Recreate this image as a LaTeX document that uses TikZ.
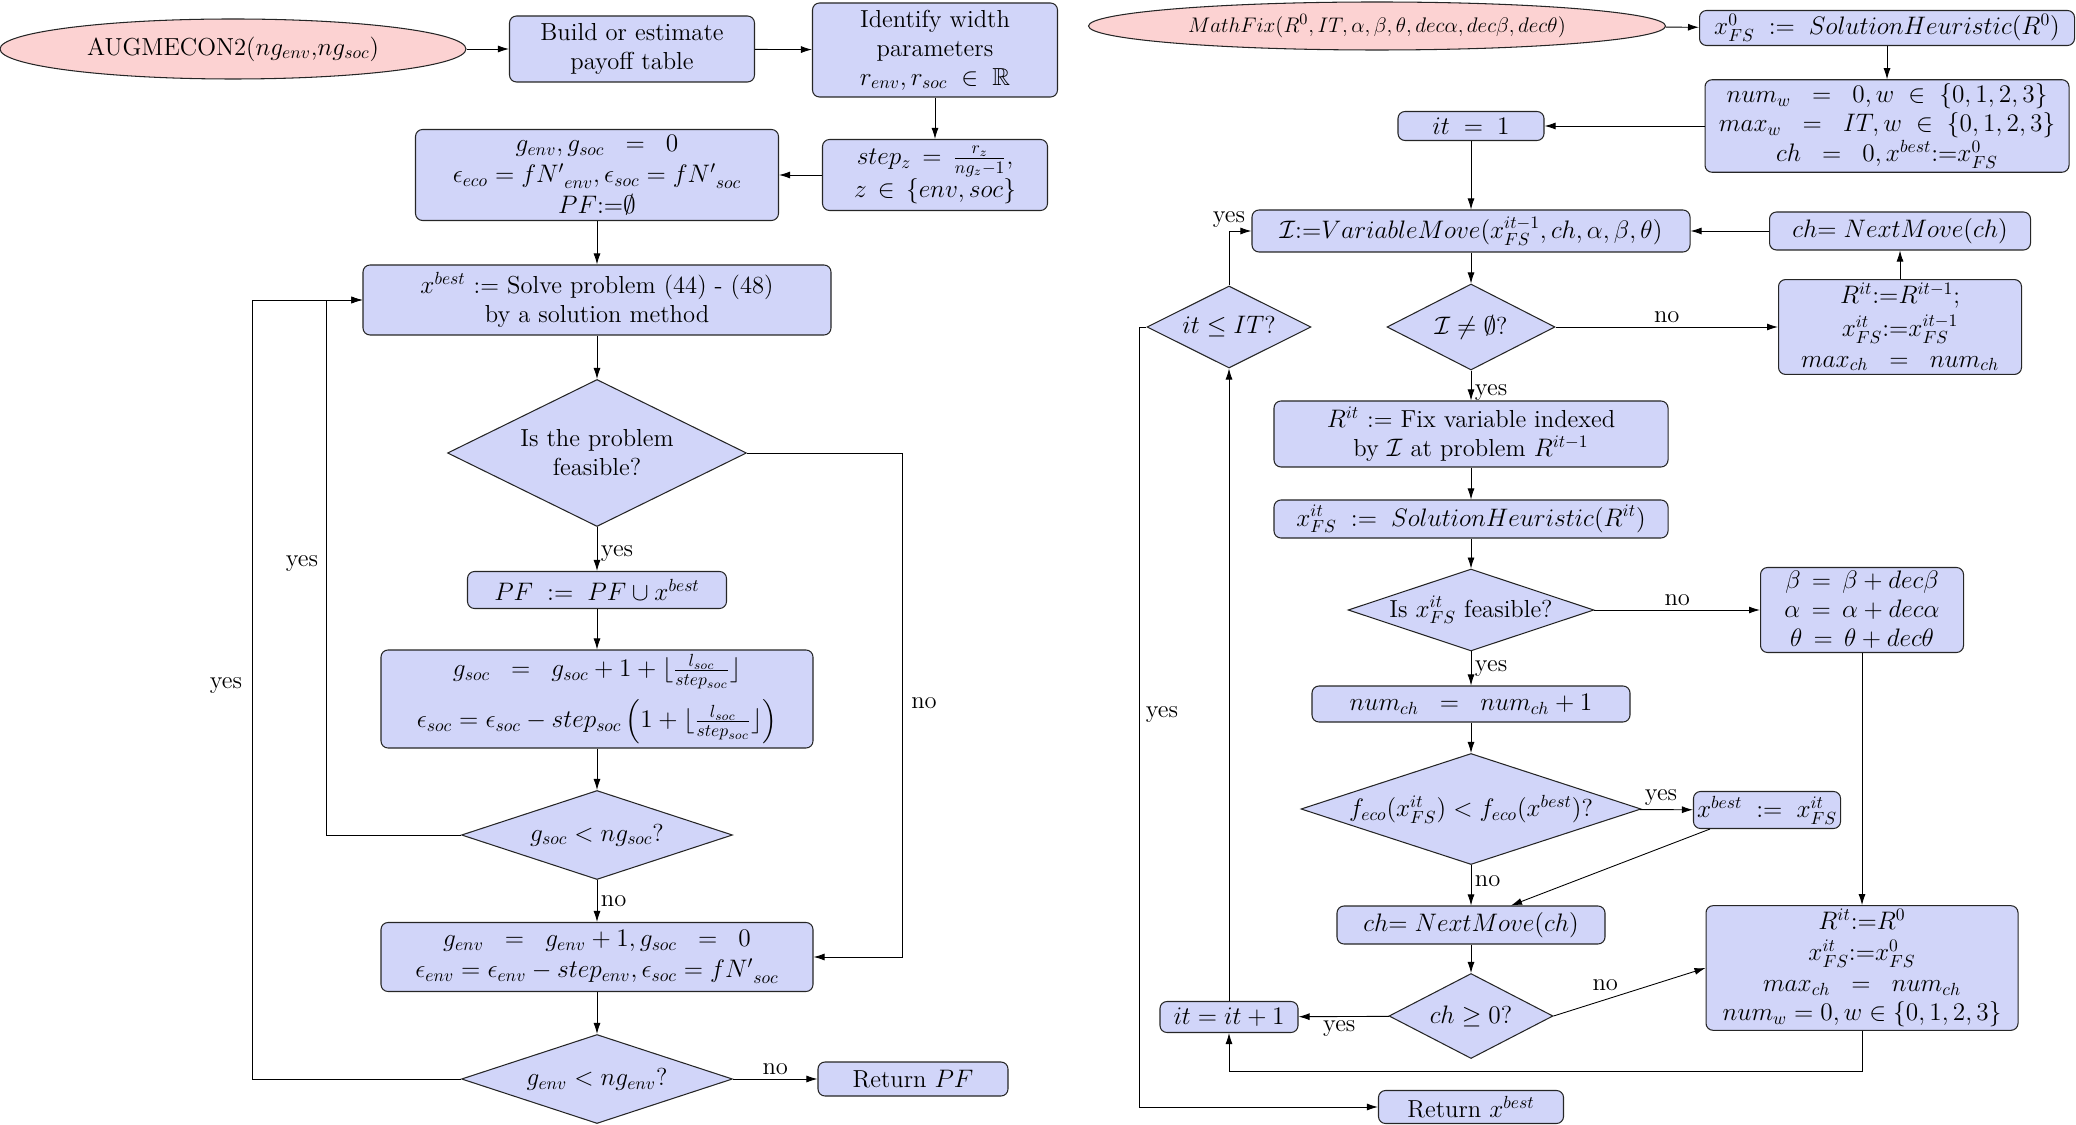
\documentclass[tikz,border=0pt]{standalone}
\usepackage{amsmath,amssymb}
\usetikzlibrary{shapes.geometric,positioning,arrows.meta}

\definecolor{boxblue}{RGB}{209,213,249}
\definecolor{startpink}{RGB}{252,210,210}

\begin{document}
\begin{tikzpicture}[
  font=\fontsize{14}{16.5}\selectfont,
  box/.style={rectangle,rounded corners=4pt,draw=black!85,line width=0.6pt,fill=boxblue,align=center,inner sep=2pt},
  cond/.style={diamond,aspect=2,draw=black!85,line width=0.6pt,fill=boxblue,align=center,inner sep=0pt},
  startnode/.style={ellipse,draw=black!85,line width=0.6pt,fill=startpink,inner sep=0pt},
  arr/.style={-{Latex[length=2.2mm,width=1.4mm]},line width=0.5pt},
  lbl/.style={inner sep=2pt},
]
\useasboundingbox (0,0) rectangle (41.52,-22.5);

% === LEFT: AUGMECON2 ===
\node[startnode,minimum width=9.32cm,minimum height=1.2cm] (aug) at (4.66,-0.98)
  {AUGMECON2($ng_{env}$,$ng_{soc}$)};
\node[box,minimum width=4.9cm,minimum height=1.32cm] (build) at (12.64,-0.98)
  {Build or estimate\\ payoff table};
\node[box,minimum width=4.9cm,minimum height=1.88cm] (ident) at (18.70,-1.00)
  {Identify width\\ parameters\\ $r_{env}, r_{soc} \;\in\; \mathbb{R}$};
\node[box,minimum width=4.5cm,minimum height=1.42cm] (stepz) at (18.70,-3.50)
  {$step_z \,=\, \frac{r_z}{ng_z-1}$,\\ $z \,\in\, \{env, soc\}$};
\node[box,minimum width=7.26cm,minimum height=1.82cm] (init) at (11.94,-3.50)
  {$g_{env}, g_{soc} \;\;=\;\; 0$\\[1pt] $\epsilon_{eco} = {fN'}_{env}, \epsilon_{soc} = {fN'}_{soc}$\\[1pt] $PF{:=}\emptyset$};
\node[box,minimum width=9.36cm,minimum height=1.4cm] (solve) at (11.94,-6.00)
  {$x^{best}$ := Solve problem (44) - (48)\\ by a solution method};
\node[cond,minimum width=5.98cm,minimum height=2.94cm] (feas) at (11.94,-9.06)
  {Is the problem\\ feasible?};
\node[box,minimum width=5.18cm,minimum height=0.74cm] (pf) at (11.94,-11.80)
  {$PF \;:=\; PF \cup x^{best}$};
\node[box,minimum width=8.64cm,minimum height=1.96cm] (gsoc) at (11.94,-13.98)
  {$g_{soc} \;\;=\;\; g_{soc} + 1 + \lfloor \frac{l_{soc}}{step_{soc}} \rfloor$\\[5pt]
   $\epsilon_{soc} = \epsilon_{soc} - step_{soc}\left(1 + \lfloor \frac{l_{soc}}{step_{soc}} \rfloor\right)$};
\node[cond,aspect=3,minimum width=5.42cm,minimum height=1.78cm] (dsoc) at (11.94,-16.70)
  {$g_{soc} < ng_{soc}$?};
\node[box,minimum width=8.64cm,minimum height=1.38cm] (genv) at (11.94,-19.14)
  {$g_{env} \;\;=\;\; g_{env} + 1, g_{soc} \;\;=\;\; 0$\\[1pt] $\epsilon_{env} = \epsilon_{env} - step_{env}, \epsilon_{soc} = {fN'}_{soc}$};
\node[cond,aspect=3,minimum width=5.42cm,minimum height=1.78cm] (denv) at (11.94,-21.58)
  {$g_{env} < ng_{env}$?};
\node[box,minimum width=3.8cm,minimum height=0.68cm] (retpf) at (18.26,-21.58)
  {Return $PF$};

\coordinate (loopin) at (6.52,-6.0);
\coordinate (loopout) at (5.04,-6.0);
\coordinate (noturn) at (18.04,-9.06);

\draw[arr] (aug) -- (build);
\draw[arr] (build) -- (ident);
\draw[arr] (ident) -- (stepz);
\draw[arr] (stepz) -- (init);
\draw[arr] (init) -- (solve);
\draw[arr] (solve) -- (feas);
\draw[arr] (feas) -- node[lbl,pos=0.6,right]{yes} (pf);
\draw[arr] (pf) -- (gsoc);
\draw[arr] (gsoc) -- (dsoc);
\draw[arr] (dsoc) -- node[lbl,pos=0.5,right]{no} (genv);
\draw[arr] (genv) -- (denv);
\draw[arr] (denv) -- node[lbl,above]{no} (retpf);
\draw[arr] (dsoc.west) -| (loopin) -- (solve.west);
\draw[arr] (denv.west) -| (loopout) -- (solve.west);
\draw[arr] (feas.east) -- (noturn) |- (genv.east);
\node[lbl] (yesin) at (6.04,-11.28) {yes};
\node[lbl] (yesout) at (4.52,-13.72) {yes};
\node[lbl] (nofeas) at (18.48,-14.06) {no};

% === RIGHT: MathFix ===
\node[startnode,minimum width=11.54cm,minimum height=0.96cm,font=\fontsize{13.2}{16}\selectfont] (mfix) at (27.54,-0.52)
  {$MathFix(R^0, IT, \alpha, \beta, \theta, dec\alpha, dec\beta, dec\theta)$};
\node[box,minimum width=7.5cm,minimum height=0.7cm] (x0) at (37.74,-0.56)
  {$x^0_{FS} \;:=\; SolutionHeuristic(R^0)$};
\node[box,minimum width=7.28cm,minimum height=1.78cm] (numw) at (37.74,-2.52)
  {$num_w \;\;=\;\; 0, w \;\in\; \{0,1,2,3\}$\\ $max_w \;\;=\;\; IT, w \;\in\; \{0,1,2,3\}$\\[1pt] $ch \;\;=\;\; 0, x^{best}{:=}x^0_{FS}$};
\node[box,minimum width=2.92cm,minimum height=0.58cm] (it1) at (29.42,-2.52)
  {$it \;=\; 1$};
\node[box,minimum width=8.76cm,minimum height=0.84cm] (vmove) at (29.42,-4.62)
  {$\mathcal{I}{:=}VariableMove(x^{it-1}_{FS}, ch, \alpha, \beta, \theta)$};
\node[box,minimum width=5.22cm,minimum height=0.76cm] (nmove1) at (38.00,-4.62)
  {$ch{=}\;NextMove(ch)$};
\node[cond,minimum width=3.28cm,minimum height=1.64cm] (ditit) at (24.58,-6.54)
  {$it \leq IT$?};
\node[cond,minimum width=3.36cm,minimum height=1.72cm] (dempty) at (29.42,-6.54)
  {$\mathcal{I} \neq \emptyset$?};
\node[box,minimum width=4.86cm,minimum height=1.8cm] (rprev) at (38.00,-6.54)
  {$R^{it}{:=}R^{it-1}$;\\[2pt] $x^{it}_{FS}{:=}x^{it-1}_{FS}$\\[1pt] $max_{ch} \;\;=\;\; num_{ch}$};
\node[box,minimum width=7.88cm,minimum height=1.32cm] (fix) at (29.42,-8.68)
  {$R^{it}$ := Fix variable indexed\\ by $\mathcal{I}$ at problem $R^{it-1}$};
\node[box,minimum width=7.88cm,minimum height=0.76cm] (sheur) at (29.42,-10.38)
  {$x^{it}_{FS} \;:=\; SolutionHeuristic(R^{it})$};
\node[cond,aspect=3,minimum width=4.6cm,minimum height=1.54cm] (dfeas) at (29.42,-12.20)
  {Is $x^{it}_{FS}$ feasible?};
\node[box,minimum width=4.06cm,minimum height=1.7cm] (beta) at (37.24,-12.20)
  {$\beta \,=\, \beta + dec\beta$\\ $\alpha \,=\, \alpha + dec\alpha$\\ $\theta \,=\, \theta + dec\theta$};
\node[box,minimum width=6.36cm,minimum height=0.72cm] (numch) at (29.42,-14.08)
  {$num_{ch} \;\;=\;\; num_{ch} + 1$};
\node[cond,aspect=3,minimum width=6.8cm,minimum height=2.22cm] (dfeco) at (29.42,-16.18)
  {$f_{eco}(x^{it}_{FS}) < f_{eco}(x^{best})$?};
\node[box,minimum width=2.9cm,minimum height=0.74cm] (xbest) at (35.34,-16.20)
  {$x^{best} \;:=\; x^{it}_{FS}$};
\node[box,minimum width=5.36cm,minimum height=0.76cm] (nmove2) at (29.42,-18.50)
  {$ch{=}\;NextMove(ch)$};
\node[box,minimum width=6.24cm,minimum height=2.32cm] (reset) at (37.24,-19.36)
  {$R^{it}{:=}R^0$\\[1pt] $x^{it}_{FS}{:=}x^0_{FS}$\\[1pt] $max_{ch} \;\;=\;\; num_{ch}$\\ $num_w = 0, w \in \{0,1,2,3\}$};
\node[cond,minimum width=3.28cm,minimum height=1.7cm] (dch) at (29.42,-20.32)
  {$ch \geq 0$?};
\node[box,minimum width=2.76cm,minimum height=0.62cm] (itinc) at (24.58,-20.34)
  {$it = it + 1$};
\node[box,minimum width=3.7cm,minimum height=0.66cm] (retx) at (29.42,-22.14)
  {Return $x^{best}$};

\coordinate (backturn) at (37.24,-21.42);
\coordinate (exitturn) at (22.78,-6.54);

\draw[arr] (mfix) -- (x0);
\draw[arr] (x0) -- (numw);
\draw[arr] (numw) -- (it1);
\draw[arr] (it1) -- (vmove);
\draw[arr] (vmove) -- (dempty);
\draw[arr] (dempty) -- node[lbl,above]{no} (rprev);
\draw[arr] (rprev) -- (nmove1);
\draw[arr] (nmove1) -- (vmove);
\draw[arr] (dempty) -- node[lbl,pos=0.75,right]{yes} (fix);
\draw[arr] (fix) -- (sheur);
\draw[arr] (sheur) -- (dfeas);
\draw[arr] (dfeas) -- node[lbl,above]{no} (beta);
\draw[arr] (dfeas) -- node[lbl,pos=0.5,right]{yes} (numch);
\draw[arr] (numch) -- (dfeco);
\draw[arr] (dfeco) -- node[lbl,above,pos=0.4]{yes} (xbest);
\draw[arr] (dfeco) -- node[lbl,pos=0.4,right]{no} (nmove2);
\draw[arr] ([xshift=0.34cm]xbest.south west) -- ([xshift=0.8cm]nmove2.north);
\draw[arr] (beta) -- (reset);
\draw[arr] (nmove2) -- (dch);
\draw[arr] (dch.east) -- node[lbl,above left,pos=0.45]{no} (reset.west);
\draw[arr] (dch) -- node[lbl,below,pos=0.55]{yes} (itinc);
\draw[arr] (reset.south) -- (backturn) -| (itinc.south);
\draw[arr] (itinc) -- (ditit);
\draw[arr] (ditit.north) |- node[lbl,pos=0.5,above]{yes} (vmove.west);
\draw[arr] (ditit.west) -- (exitturn) |- (retx.west);
\node[lbl] (yesexit) at (23.24,-14.3) {yes};

\end{tikzpicture}
\end{document}
